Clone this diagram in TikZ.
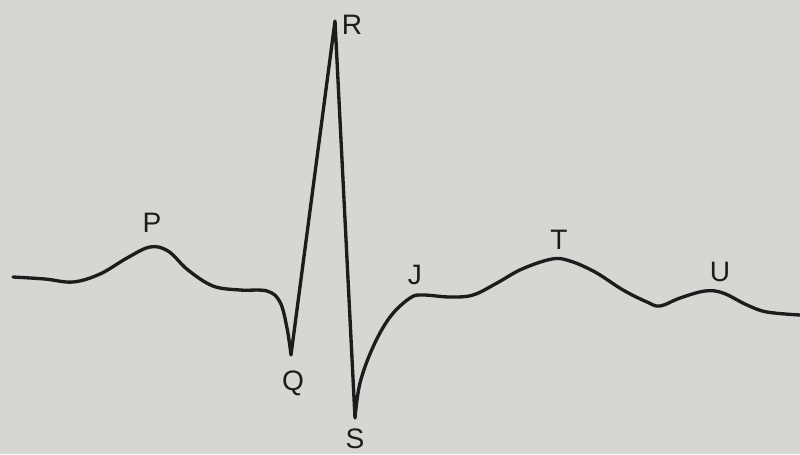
\documentclass[tikz,border=0pt]{standalone}
\usepackage{fontspec}
\setmainfont{Liberation Sans}
\usepackage{tikz}
\definecolor{paper}{HTML}{D6D7D3}
\definecolor{ink}{HTML}{1C1C1C}

\begin{document}
\begin{tikzpicture}[
        x=0.02cm, y=-0.02cm,
        wave/.style={ink, line width=1.9pt, line join=round, line cap=round},
        wavelabel/.style={text=ink, font=\fontsize{16}{18}\selectfont, inner sep=0pt}
    ]
        \fill[paper] (0,0) rectangle (800,454);
        \useasboundingbox (0,0) rectangle (800,454);

        % key points of the trace
        \coordinate (start) at (13,277);
        \coordinate (ppeak) at (150,247);
        \coordinate (qdip) at (291,355);
        \coordinate (rpeak) at (335,21);
        \coordinate (sdip) at (355,418);
        \coordinate (jpt) at (410,298);
        \coordinate (tpeak) at (552,259);
        \coordinate (upeak) at (705,291);
        \coordinate (end) at (800,315);

        \draw [wave] plot[smooth, tension=0.6] coordinates {(start) (45,279) (73,282) (100,274) (127,258) (ppeak) (168,251) (188,270) (213,286) (240,290) (267,291) (280,302) (287,328) (qdip)}
            -- (rpeak) -- (sdip)
            -- plot[smooth, tension=0.6] coordinates {(sdip) (360,383) (373,347) (390,317) (jpt) (423,295) (450,297) (473,295) (497,283) (522,269) (tpeak) (570,261) (595,272) (623,290) (647,302) (660,306) (680,298) (upeak) (723,293) (747,305) (767,312) (end)};

        \node (P) [wavelabel] at (152,223) {P};
        \node (Q) [wavelabel] at (293,383) {Q};
        \node (R) [wavelabel] at (352,25) {R};
        \node (S) [wavelabel] at (355,439) {S};
        \node (J) [wavelabel] at (415,275) {J};
        \node (T) [wavelabel] at (559,240) {T};
        \node (U) [wavelabel] at (720,272) {U};
    \end{tikzpicture}
\end{document}
